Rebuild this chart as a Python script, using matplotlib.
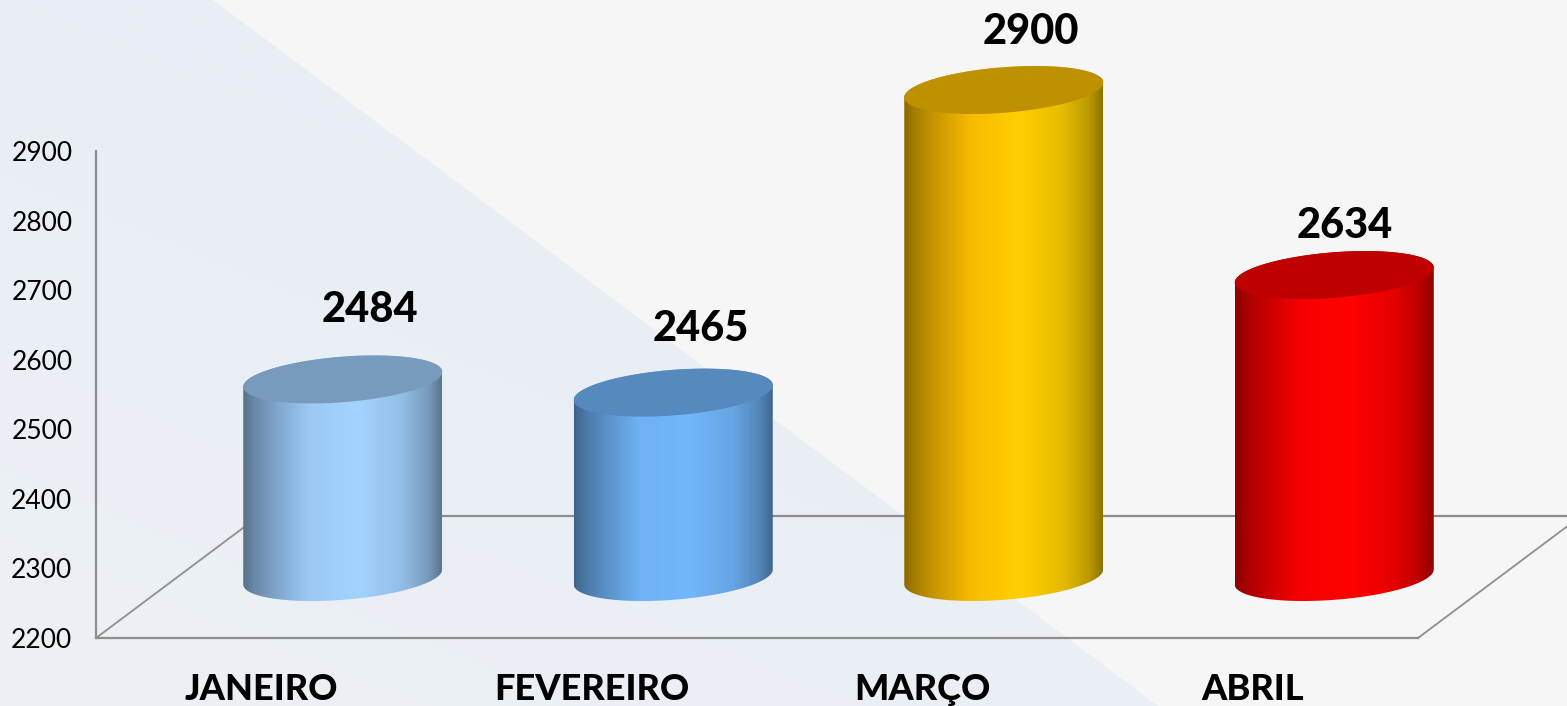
import numpy as np
import matplotlib
matplotlib.use("Agg")
import matplotlib.pyplot as plt
from matplotlib.colors import to_rgb
from matplotlib.patches import Polygon

# ---- data ----
months = ["JANEIRO", "FEVEREIRO", "MARÇO", "ABRIL"]
values = [2484, 2465, 2900, 2634]
y_ticks = [2200, 2300, 2400, 2500, 2600, 2700, 2800, 2900]
bar_colors = ["#a3d3ff", "#72b7fc", "#ffd000", "#ff0000"]
shoulder_colors = ["#a0cffc", "#72b7fc", "#ffc000", "#ff0000"]

# ---- layout / style ----
W, H = 1567, 706
PX_X = 1 / 330.5            # category units per pixel
PX_Y = 700 / 487            # value units per pixel
DEPTH_X, DEPTH_Y = 163 * PX_X, 122 * PX_Y
A, B, K = 99.5 * PX_X, 22.8 * PX_Y, 7.5 * PX_Y
LABEL_OFFSETS_PX = [(27, 130), (27.5, 125), (27, 119), (11, 110)]
AXIS_COLOR = "#8e8e8e"
plt.rcParams["font.family"] = ["Lato", "DejaVu Sans"]

fig = plt.figure(figsize=(W / 100, H / 100), dpi=100, facecolor="#f6f6f6")

# background triangle
bg = fig.add_axes([0, 0, 1, 1], zorder=0)
bg.set_xlim(0, W)
bg.set_ylim(H, 0)
bg.axis("off")
yy, xx = np.mgrid[0:1:400j, 0:1:400j]
mix = np.clip(yy - xx * 0.9, 0, 1)[..., None]
grad = np.array(to_rgb("#e9eef6")) * (1 - mix) + np.array(to_rgb("#edf1f5")) * mix
im = bg.imshow(grad, extent=[0, W, H, 0], aspect="auto", interpolation="bilinear")
tri = Polygon([(0, 0), (213, 0), (1158, H), (0, H)], closed=True,
              transform=bg.transData, fill=False, edgecolor="none")
bg.add_patch(tri)
im.set_clip_path(tri)

# main axes: plot floor front edge and vertical axis
ax = fig.add_axes([96 / W, 1 - 638 / H, 1322 / W, 487 / H], zorder=1)
ax.patch.set_alpha(0)
for side in ("top", "right"):
    ax.spines[side].set_visible(False)
for side in ("left", "bottom"):
    ax.spines[side].set_color(AXIS_COLOR)
    ax.spines[side].set_linewidth(1.6)

x0, x1, y0, y1 = -0.5, 3.5, min(y_ticks), max(y_ticks)

# floor outline
ax.plot([x0, x0 + DEPTH_X], [y0, y0 + DEPTH_Y], color=AXIS_COLOR, lw=1.3, clip_on=False, zorder=1)
ax.plot([x1, x1 + DEPTH_X], [y0, y0 + DEPTH_Y], color=AXIS_COLOR, lw=1.3, clip_on=False, zorder=1)
ax.plot([x0 + DEPTH_X, x1 + DEPTH_X], [y0 + DEPTH_Y] * 2, color=AXIS_COLOR, lw=1.6, clip_on=False, zorder=1)

stops = [0, 0.05, 0.17, 0.33, 0.58, 0.8, 0.93, 1.0]
shade = [0.55, 0.65, 0.80, 0.97, 1.0, 0.90, 0.74, 0.56]
u = np.linspace(0, 1, 256)
f = np.interp(u, stops, shade)
blend = np.interp(u, [0, 0.33, 0.58, 1], [1, 1, 0, 0])[None, :, None]


def ellipse_arc(cx, cy, t):
    return np.column_stack([cx + A * np.cos(t), cy + B * np.sin(t) + K * np.cos(t)])


for i, (v, c, s) in enumerate(zip(values, bar_colors, shoulder_colors)):
    rgb = np.array(to_rgb(c))
    rgb_s = np.array(to_rgb(s))
    cx = i + DEPTH_X / 2
    top = v + DEPTH_Y / 2
    base = y0 + DEPTH_Y / 2
    lower = ellipse_arc(cx, base, np.linspace(np.pi, 2 * np.pi, 120))
    upper = ellipse_arc(cx, top, np.linspace(0, np.pi, 120))
    body = Polygon(np.vstack([lower, upper]), closed=True, transform=ax.transData,
                   fill=False, edgecolor="none", clip_on=False)
    ax.add_patch(body)
    col = blend * rgb_s[None, None, :] + (1 - blend) * rgb[None, None, :]
    img = np.clip(f[None, :, None] * col, 0, 1)
    im = ax.imshow(img, extent=[cx - A, cx + A, base - 2 * B, top + 2 * B],
                   aspect="auto", zorder=2, interpolation="bilinear")
    im.set_clip_box(fig.bbox)
    im.set_clip_path(body)
    cap = Polygon(ellipse_arc(cx, top, np.linspace(0, 2 * np.pi, 240)), closed=True,
                  facecolor=rgb_s * 0.75, edgecolor="none", zorder=3, clip_on=False)
    ax.add_patch(cap)
    dx, dy = LABEL_OFFSETS_PX[i]
    ax.annotate(str(v), xy=(cx, v), xytext=(dx * 0.72, dy * 0.72),
                textcoords="offset points", ha="center", va="center",
                fontsize=30, fontweight="black", color="black",
                annotation_clip=False, zorder=4)

ax.set_xlim(x0, x1)
ax.set_ylim(y0, y1)
ax.set_xticks(range(len(months)), months)
ax.set_yticks(y_ticks, [str(t) for t in y_ticks])
ax.tick_params(axis="x", length=0, pad=25, labelsize=26, colors="black")
for lab in ax.get_xticklabels():
    lab.set_fontweight("black")
ax.tick_params(axis="y", length=0, pad=17, labelsize=19, colors="black")

fig.savefig("out.png", dpi=100, facecolor=fig.get_facecolor())
